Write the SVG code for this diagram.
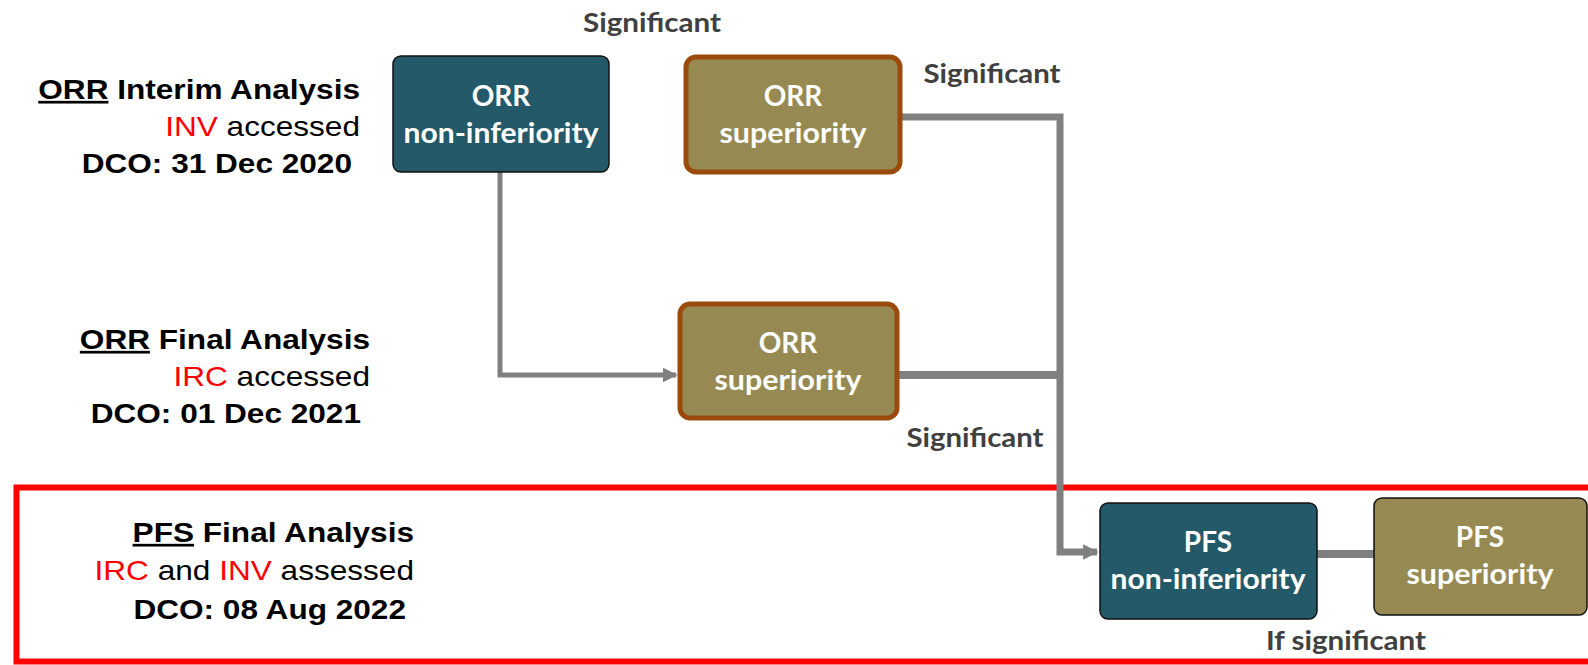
<svg xmlns="http://www.w3.org/2000/svg" width="1588" height="665" viewBox="0 0 1588 665">
<style>
.lbl{font-family:"Liberation Sans",Arial,sans-serif;font-size:27px;fill:#000;text-anchor:end}
.b{font-weight:bold}
.red{fill:#ff0000}
.box text{font-family:Lato,"Open Sans",sans-serif;font-weight:bold;font-size:28px;fill:#fff;text-anchor:middle}
.sig{font-family:Lato,"Open Sans",sans-serif;font-weight:bold;font-size:27px;fill:#404040;text-anchor:middle}
.teal{fill:#235968;stroke:#111;stroke-width:1.5}
.olive{fill:#968a52;stroke:#9b4a0b;stroke-width:5}
.olive2{fill:#968a52;stroke:#111;stroke-width:1.5}
.con{fill:none;stroke:#808080;stroke-linejoin:miter}
</style>
<defs>
<marker id="arr" viewBox="0 0 10 10" refX="9" refY="5" markerWidth="3" markerHeight="3" markerUnits="strokeWidth" orient="auto">
<path d="M0,0 L10,5 L0,10 z" fill="#808080"/>
</marker>
<marker id="arr2" viewBox="0 0 10 10" refX="9" refY="5" markerWidth="2.2" markerHeight="2.6" markerUnits="strokeWidth" orient="auto">
<path d="M0,0 L10,5 L0,10 z" fill="#808080"/>
</marker>
</defs>
<rect x="16.5" y="487.5" width="1580" height="174" fill="none" stroke="#ff0000" stroke-width="6"/>
<g id="labels">
<text class="lbl b" transform="translate(360,99) scale(1.17,1)"><tspan text-decoration="underline">ORR</tspan> Interim Analysis</text>
<text class="lbl" transform="translate(360,136) scale(1.17,1)"><tspan class="red">INV</tspan> accessed</text>
<text class="lbl b" transform="translate(352,173) scale(1.17,1)">DCO: 31 Dec 2020</text>
<text class="lbl b" transform="translate(370,349) scale(1.17,1)"><tspan text-decoration="underline">ORR</tspan> Final Analysis</text>
<text class="lbl" transform="translate(370,386) scale(1.17,1)"><tspan class="red">IRC</tspan> accessed</text>
<text class="lbl b" transform="translate(361,423) scale(1.17,1)">DCO: 01 Dec 2021</text>
<text class="lbl b" transform="translate(414,542) scale(1.17,1)"><tspan text-decoration="underline">PFS</tspan> Final Analysis</text>
<text class="lbl" transform="translate(414,580) scale(1.17,1)"><tspan class="red">IRC</tspan> and <tspan class="red">INV</tspan> assessed</text>
<text class="lbl b" transform="translate(406,619) scale(1.17,1)">DCO: 08 Aug 2022</text>
</g>
<g id="connectors">
<path class="con" d="M500,172 V375 H676" stroke-width="5" marker-end="url(#arr)"/>
<path class="con" d="M901,117 H1060 V552 H1097" stroke-width="7" marker-end="url(#arr2)"/>
<path class="con" d="M898,375 H1060" stroke-width="8"/>
<path class="con" d="M1317,554 H1374" stroke-width="8"/>
</g>
<g id="sig-labels">
<text class="sig" x="652" y="32" textLength="138" lengthAdjust="spacingAndGlyphs">Significant</text>
<text class="sig" x="992" y="83" textLength="137" lengthAdjust="spacingAndGlyphs">Significant</text>
<text class="sig" x="975" y="447" textLength="137" lengthAdjust="spacingAndGlyphs">Significant</text>
<text class="sig" x="1346" y="650" textLength="160" lengthAdjust="spacingAndGlyphs">If significant</text>
</g>
<g id="orr-noninf" class="box">
<rect class="teal" x="393" y="56" width="216" height="116" rx="8"/>
<text x="501" y="106">ORR</text>
<text x="501" y="143" textLength="195" lengthAdjust="spacingAndGlyphs">non-inferiority</text>
</g>
<g id="orr-sup-interim" class="box">
<rect class="olive" x="686" y="57" width="214" height="115" rx="10"/>
<text x="793" y="106">ORR</text>
<text x="793" y="143" textLength="147" lengthAdjust="spacingAndGlyphs">superiority</text>
</g>
<g id="orr-sup-final" class="box">
<rect class="olive" x="680" y="304" width="217" height="114" rx="10"/>
<text x="788" y="353">ORR</text>
<text x="788" y="390" textLength="147" lengthAdjust="spacingAndGlyphs">superiority</text>
</g>
<g id="pfs-noninf" class="box">
<rect class="teal" x="1100" y="503" width="217" height="116" rx="8"/>
<text x="1208" y="552">PFS</text>
<text x="1208" y="589" textLength="195" lengthAdjust="spacingAndGlyphs">non-inferiority</text>
</g>
<g id="pfs-sup" class="box">
<rect class="olive2" x="1374" y="498" width="213" height="117" rx="8"/>
<text x="1480" y="547">PFS</text>
<text x="1480" y="584" textLength="147" lengthAdjust="spacingAndGlyphs">superiority</text>
</g>
</svg>
